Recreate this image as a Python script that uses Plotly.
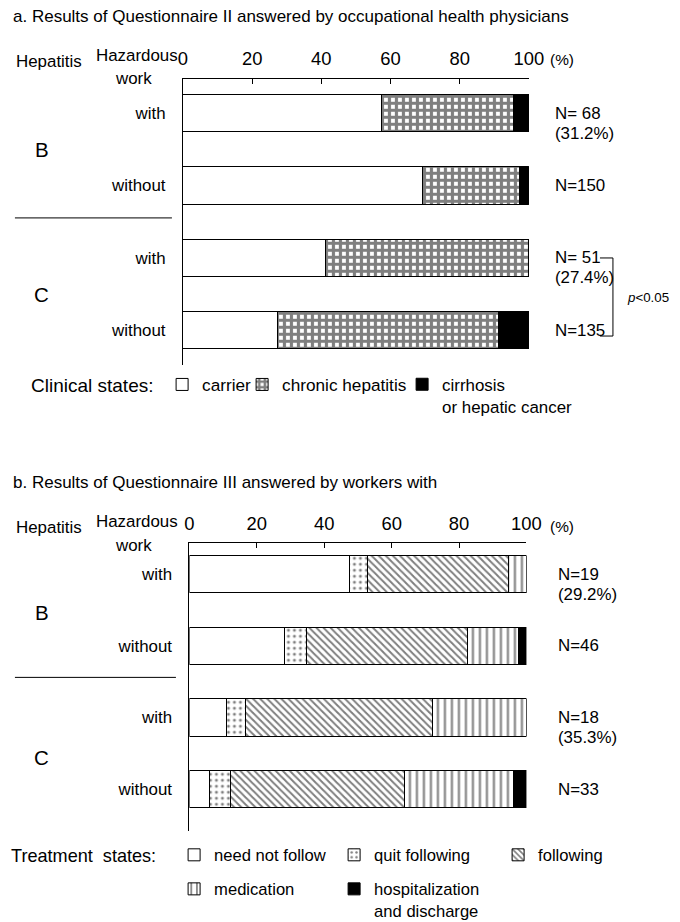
import plotly.graph_objects as go

# ---------------- data ----------------
rows = ["B-with", "B-without", "C-with", "C-without"]
row_labels = ["with", "without", "with", "without"]
tick_vals = [0, 20, 40, 60, 80, 100]

# a. Questionnaire II (%)
carrier = [57.4, 69.3, 41.2, 27.4]
chronic_hepatitis = [38.2, 28.0, 58.8, 63.7]
cirrhosis = [4.4, 2.7, 0.0, 8.9]
n_a = ["N= 68", "N=150", "N= 51", "N=135"]
pct_a = ["(31.2%)", "", "(27.4%)", ""]

# b. Questionnaire III (%)
need_not_follow = [47.4, 28.3, 11.1, 6.1]
quit_following = [5.3, 6.5, 5.6, 6.1]
following = [42.1, 47.8, 55.5, 51.5]
medication = [5.2, 14.9, 27.8, 32.6]
hospitalization = [0.0, 2.5, 0.0, 3.7]
n_b = ["N=19", "N=46", "N=18", "N=33"]
pct_b = ["(29.2%)", "", "(35.3%)", ""]

# ---------------- placement helpers ----------------
W, H = 690, 934
FONT = "Liberation Sans, Arial, sans-serif"
BODY = 8
SX, OX = 0.971, 5.3      # page -> picture mapping observed for this viewer
SY, OY = 0.999, 0.3
FS = 1 / 0.976           # font compensation


def X(t):
    return ((t - OX) / SX - BODY) / W


def Y(t):
    return 1 - ((t - OY) / SY - BODY) / H


def f(s):
    return round(s * FS, 1)


BW = 0.52
LINE = dict(color="black", width=1)

fig = go.Figure()


def add_bar(name, vals, xa, ya, legend, pattern=None, color="white"):
    marker = dict(color=color, line=LINE)
    if pattern:
        marker["pattern"] = pattern
    fig.add_trace(go.Bar(
        name=name, y=rows, x=vals, orientation="h", width=BW,
        xaxis=xa, yaxis=ya, marker=marker, legend=legend,
        hovertemplate="%{x:.1f}%<extra>" + name.replace("<br>", " ") + "</extra>",
    ))


# top chart
add_bar("carrier", carrier, "x", "y", "legend")
add_bar("chronic hepatitis", chronic_hepatitis, "x", "y", "legend2",
        dict(shape="+", size=7, solidity=0.7, fgcolor="black", bgcolor="white", fillmode="overlay"))
add_bar("cirrhosis<br>or hepatic cancer", cirrhosis, "x", "y", "legend3", color="black")

# bottom chart
add_bar("need not follow", need_not_follow, "x2", "y2", "legend4")
add_bar("quit following", quit_following, "x2", "y2", "legend5",
        dict(shape=".", size=6, solidity=0.2, fgcolor="black", bgcolor="white", fillmode="overlay"))
add_bar("following", following, "x2", "y2", "legend6",
        dict(shape="\\", size=5, solidity=0.4, fgcolor="black", bgcolor="white", fillmode="overlay"))
add_bar("medication", medication, "x2", "y2", "legend7",
        dict(shape="|", size=7, solidity=0.3, fgcolor="black", bgcolor="white", fillmode="overlay"))
add_bar("hospitalization<br>and discharge", hospitalization, "x2", "y2", "legend8", color="black")

xcommon = dict(range=[0, 100], tickvals=tick_vals, side="top", ticks="inside", ticklen=5,
               tickcolor="black", showline=True, linecolor="black", linewidth=1,
               showgrid=False, zeroline=False, fixedrange=True, ticklabelstandoff=5,
               tickfont=dict(size=f(18), color="black"))
ycommon = dict(type="category", categoryarray=rows, tickvals=rows, ticktext=row_labels,
               showline=True, linecolor="black", linewidth=1, ticks="", showgrid=False,
               ticklabelstandoff=13, tickfont=dict(size=f(16.5), color="black"), fixedrange=True)

fig.update_layout(
    width=W, height=H, margin=dict(l=0, r=0, t=0, b=0),
    paper_bgcolor="white", plot_bgcolor="white",
    font=dict(family=FONT, color="black", size=16),
    barmode="stack", showlegend=True,
    xaxis=dict(domain=[X(183), X(529)], anchor="y", **xcommon),
    yaxis=dict(domain=[Y(365), Y(79)], anchor="x", range=[3.483, -0.476], **ycommon),
    xaxis2=dict(domain=[X(189.5), X(526.5)], anchor="y2", **xcommon),
    yaxis2=dict(domain=[Y(830), Y(543)], anchor="x2", range=[3.58, -0.434], **ycommon),
)

# legends: one per trace; position given by where the entry text starts
legend_pos = {
    "legend": (201, 386, 16.8, 19.3), "legend2": (281, 386, 16.8, 19.3), "legend3": (441, 386, 16.5, 19.3),
    "legend4": (213, 855, 16.2, 18), "legend5": (373, 855, 16.2, 18), "legend6": (537, 855, 16.2, 18),
    "legend7": (213, 889, 16.2, 18), "legend8": (373, 889, 16.2, 18),
}
for key, (tx, ty, fs, off) in legend_pos.items():
    lx = X(tx) - 40 / W
    ly = Y(ty - off)
    fig.update_layout({key: dict(x=lx, y=ly, bgcolor="rgba(0,0,0,0)", borderwidth=0,
                                 font=dict(size=f(fs), color="black"), xanchor="left", yanchor="top",
                                 itemwidth=30, valign="top", itemclick=False, itemdoubleclick=False)})

ann = []


def text(px, py, t, size=16, xanchor="left", **kw):
    ann.append(dict(x=X(px), y=Y(py), xref="paper", yref="paper", text=t, showarrow=False,
                    xanchor=xanchor, yanchor="middle", font=dict(size=f(size), color="black"), **kw))


text(11, 17, "a. Results of Questionnaire II answered by occupational health physicians", size=16.6)
text(11, 482, "b. Results of Questionnaire III answered by workers with", size=16.6)

for top in (62, 527):
    text(14, top, "Hepatitis", size=16.5)
for (hy, wy) in ((56, 79), (521, 545)):
    text(180, hy, "Hazardous", size=16.5, xanchor="right")
    text(154, wy, "work", size=16.5, xanchor="right")
text(548, 60, "(%)", size=15)
text(548, 526, "(%)", size=15)

text(42, 150, "B", size=20, xanchor="center")
text(42, 295, "C", size=20, xanchor="center")
text(42, 612, "B", size=20, xanchor="center")
text(42, 757, "C", size=20, xanchor="center")

text(29, 385, "Clinical states:", size=18.5)
text(9, 855, "Treatment  states:", size=17.7)

# N labels tied to the bars
for ya, xa, ns, ps, shift in (("y", "x", n_a, pct_a, 23), ("y2", "x2", n_b, pct_b, 29)):
    for r, n, p in zip(rows, ns, ps):
        ann.append(dict(x=100, y=r, xref=xa, yref=ya, text=n, showarrow=False, xanchor="left",
                        yanchor="middle", xshift=shift / SX, font=dict(size=f(16.5), color="black")))
        if p:
            ann.append(dict(x=100, y=r, xref=xa, yref=ya, text=p, showarrow=False, xanchor="left",
                            yanchor="middle", xshift=shift / SX, yshift=-20 / SY,
                            font=dict(size=f(16.5), color="black")))

text(625, 298, "<i>p</i><0.05", size=13)
fig.update_layout(annotations=ann)

# dividers between B and C, significance bracket
shapes = [
    dict(type="line", xref="paper", yref="paper", x0=X(15), x1=X(172), y0=Y(218), y1=Y(218), line=LINE),
    dict(type="line", xref="paper", yref="paper", x0=X(15), x1=X(176), y0=Y(677), y1=Y(677), line=LINE),
    dict(type="path", xref="paper", yref="paper",
         path=f"M {X(600)} {Y(258)} L {X(613)} {Y(258)} L {X(613)} {Y(336)} L {X(600)} {Y(336)}",
         line=dict(color="black", width=1)),
]
fig.update_layout(shapes=shapes)

fig.write_html("out.html")
